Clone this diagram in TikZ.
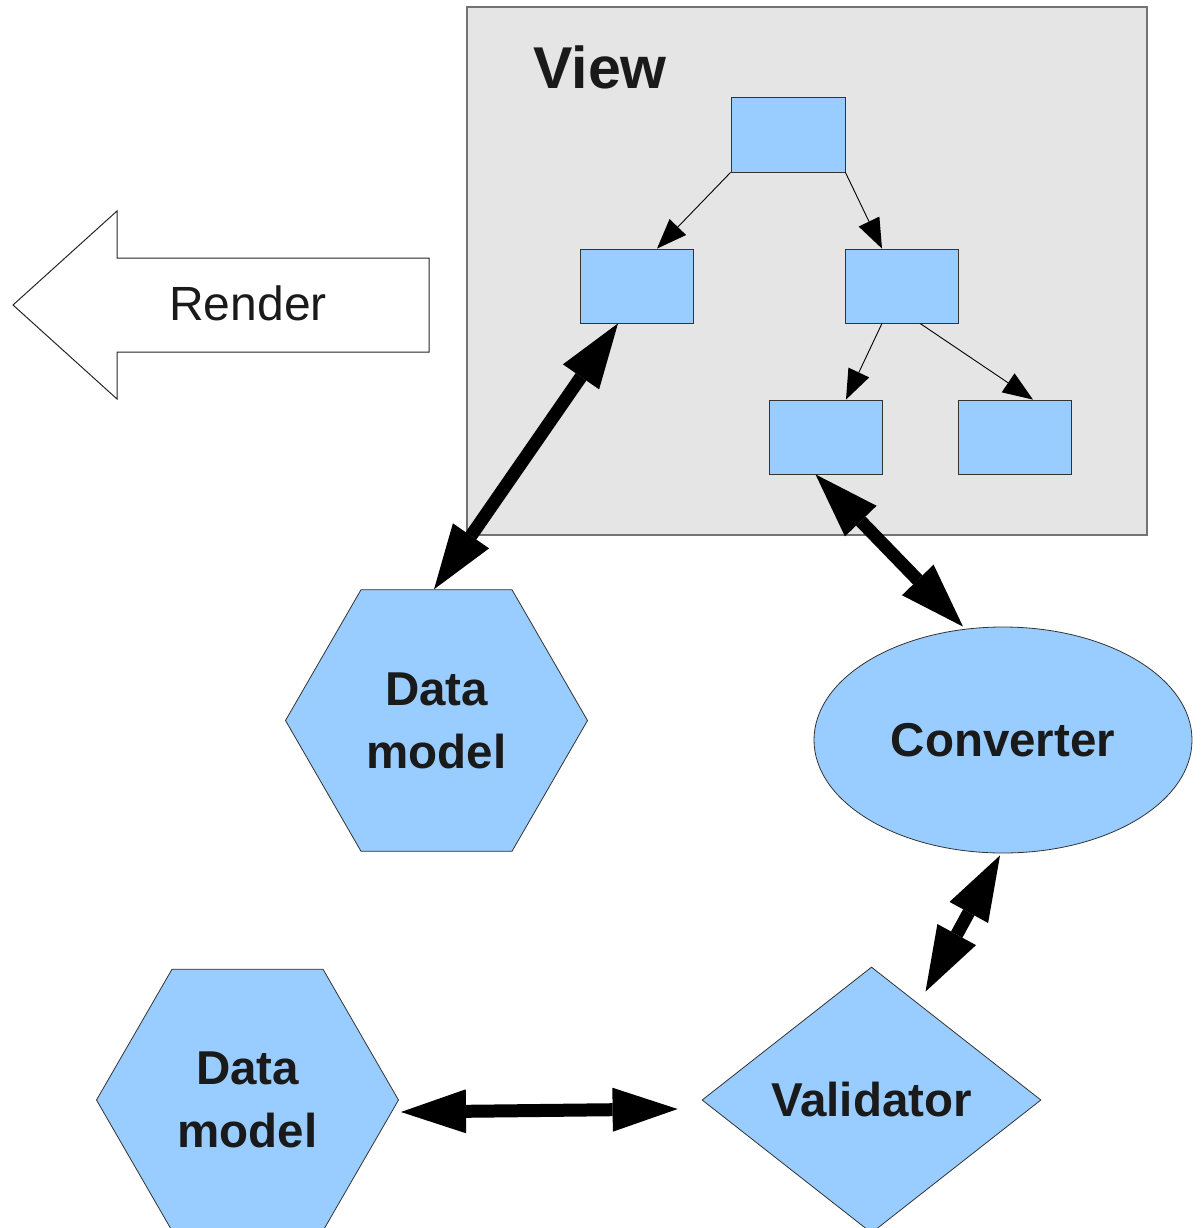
\documentclass[tikz,border=0pt]{standalone}
\usepackage{fontspec}
\setmainfont{Liberation Sans}
\usetikzlibrary{arrows.meta,shapes.geometric}
\definecolor{boxblue}{HTML}{99CCFF}
\definecolor{viewgray}{HTML}{E5E5E5}
\definecolor{txt}{HTML}{1A1A1A}
\begin{document}
\begin{tikzpicture}[x=1pt,y=-1pt,
  bluebox/.style={draw=black!80, fill=boxblue, minimum width=113pt, minimum height=74pt, inner sep=0pt, line width=0.8pt},
  smallarrow/.style={draw=black, line width=0.9pt, -{Triangle[length=30pt,width=23pt,line width=0pt]}},
  bigarrow/.style={line width=13pt, {Triangle[length=65pt,width=44pt,line width=0pt]}-{Triangle[length=65pt,width=44pt,line width=0pt]}},
  shapetext/.style={font=\fontsize{47.5}{63}\selectfont\bfseries, text=txt, align=center},
  hexa/.style={regular polygon, regular polygon sides=6, minimum size=302pt, draw=black!80, fill=boxblue, inner sep=0pt, line width=0.8pt, shapetext},
]
\useasboundingbox[fill=white] (0,0) rectangle (1201,1228);

% View container
\node[draw=black!55, fill=viewgray, line width=1.5pt, minimum width=680pt, minimum height=528pt, inner sep=0pt] (view) at (807,271) {};
\node[font=\fontsize{59}{62}\selectfont\bfseries, text=txt, inner sep=0pt] (viewlabel) at (600,67.5) {View};

% tree boxes
\node[bluebox, minimum width=114pt, minimum height=75pt] (top) at (788,134.5) {};
\node[bluebox] (L) at (636.5,286) {};
\node[bluebox] (R) at (901.5,286) {};
\node[bluebox] (BL) at (825.5,437) {};
\node[bluebox] (BR) at (1014.5,437) {};

\draw[smallarrow] (top.south west) -- ([xshift=20.5pt]L.north);
\draw[smallarrow] (top.south east) -- ([xshift=-19.5pt]R.north);
\draw[smallarrow] ([xshift=-19.5pt]R.south) -- ([xshift=20.5pt]BL.north);
\draw[smallarrow] ([xshift=18.5pt]R.south) -- ([xshift=18.5pt]BR.north);

% Render arrow
\draw[black!85, line width=1pt, fill=white] (13,305) -- (117,211) -- (117,258) -- (429,258) -- (429,352) -- (117,352) -- (117,399) -- cycle;
\node[font=\fontsize{48}{50}\selectfont, text=txt, inner sep=0pt] (render) at (248,303.5) {Render};

% shapes
\node[hexa] (hex1) at (436.5,720.5) {Data\\model};
\node[hexa] (hex2) at (247.5,1100) {Data\\model};
\node[ellipse, draw=black!80, fill=boxblue, line width=0.8pt, minimum width=378pt, minimum height=226pt, inner sep=0pt, shapetext] (conv) at (1003,740) {Converter};
\node[diamond, draw=black!80, fill=boxblue, line width=0.8pt, minimum width=339pt, minimum height=266pt, inner sep=0pt, shapetext] (val) at (871.5,1100) {Validator};

% thick connectors
\draw[bigarrow] ([xshift=-18.5pt]L.south) -- ([xshift=-2.5pt]hex1.north);
\draw[bigarrow] ([xshift=-10pt]BL.south) -- ([xshift=-40pt]conv.north);
\draw[bigarrow] ([xshift=-3pt,yshift=-2pt]conv.south) -- ([xshift=54pt,yshift=-25pt]val.north);
\draw[bigarrow] ([xshift=2pt,yshift=-12pt]hex2.east) -- ([xshift=-24pt,yshift=-9pt]val.west);
\end{tikzpicture}
\end{document}
